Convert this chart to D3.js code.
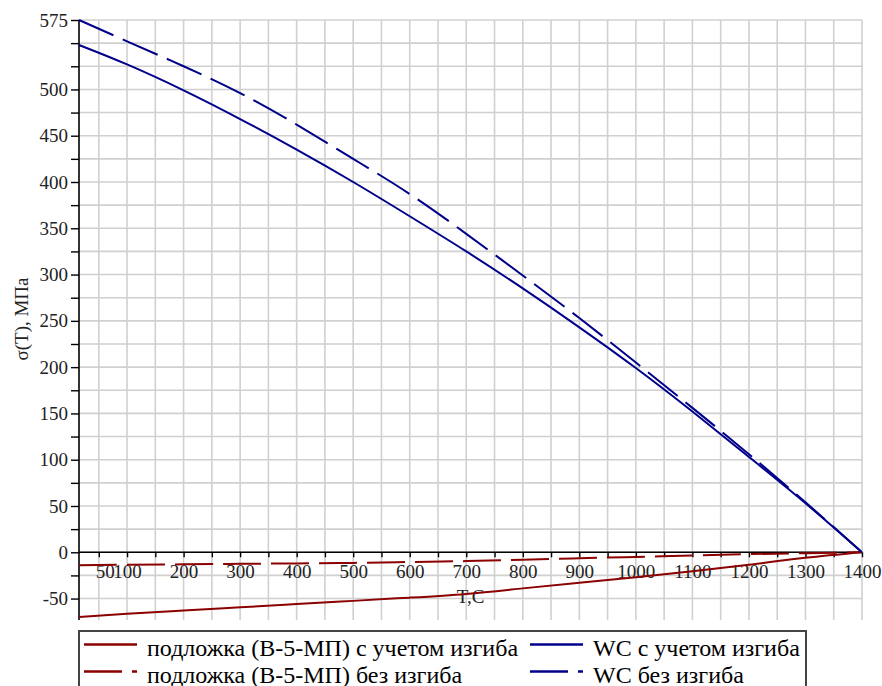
<!DOCTYPE html>
<html>
<head>
<meta charset="utf-8">
<script src="https://cdn.jsdelivr.net/npm/d3@7"></script>
<style>
  svg text { font-family: "Liberation Serif", Tinos, "Times New Roman", serif !important; }
</style>
</head>
<body style="margin:0">
<script>
// temperatures, °C
const temps = [15, 100, 200, 300, 400, 500, 600, 700, 800, 900, 1000, 1100, 1200, 1300, 1400];
// stresses, MPa
const substrateBend   = [-70, -66.5, -63, -59.5, -56, -52.5, -49, -45, -39, -33, -27, -20.5, -13.5, -6, 0];
const substrateNoBend = [-14, -13.5, -13, -12.5, -12, -11.5, -10.5, -9.5, -8, -6.5, -5, -3.5, -2, -1, 0];
const wcBend          = [548, 527, 499, 468, 435, 400, 363, 325, 285, 243, 199, 152, 103, 53, 0];
const wcNoBend        = [575, 552, 525, 496, 462, 425, 387, 344, 299, 253, 205, 156, 106, 54, 0];

const xTickValues = d3.range(50, 1401, 50);
const xTickLabels = [50, 100, 200, 300, 400, 500, 600, 700, 800, 900, 1000, 1100, 1200, 1300, 1400];
const yTickValues = d3.range(-50, 576, 25);
const yTickLabels = [575, 500, 450, 400, 350, 300, 250, 200, 150, 100, 50, 0, -50];

const seriesNames = [
    "подложка (В-5-МП) с учетом изгиба",
    "подложка (В-5-МП) без изгиба",
    "WC с учетом изгиба",
    "WC без изгиба"
];

const width = 882;
const height = 686;
const margin = { top: 20, right: 20, bottom: 68, left: 79 };
const serif = '"Liberation Serif", Tinos, "Times New Roman", serif';

const series = [
    { name: seriesNames[0], values: substrateBend, color: '#8b0000', dash: null },
    { name: seriesNames[1], values: substrateNoBend, color: '#8b0000', dash: '38,10' },
    { name: seriesNames[2], values: wcBend, color: '#00008b', dash: null },
    { name: seriesNames[3], values: wcNoBend, color: '#00008b', dash: '38,10' }
];

const svg = d3.select('body')
    .append('svg')
    .attr('width', width)
    .attr('height', height)
    .style('font-family', serif, 'important');

const x = d3.scaleLinear()
    .domain([15, 1400])
    .range([margin.left, width - margin.right]);
const y = d3.scaleLinear()
    .domain([-71, 575])
    .range([height - margin.bottom, margin.top]);

// grid
const grid = svg.append('g').classed('grid', true);

grid.selectAll('line.v')
    .data(xTickValues)
    .enter()
    .append('line')
    .attr('x1', d => x(d)).attr('x2', d => x(d))
    .attr('y1', y.range()[1]).attr('y2', y.range()[0] + 2)
    .attr('stroke', '#d0d0d0')
    .attr('stroke-width', 1.6);

grid.selectAll('line.h')
    .data(yTickValues)
    .enter()
    .append('line')
    .attr('x1', x.range()[0]).attr('x2', x.range()[1])
    .attr('y1', d => y(d)).attr('y2', d => y(d))
    .attr('stroke', '#d0d0d0')
    .attr('stroke-width', 1.6);

// axes
const xAxis = d3.axisBottom(x)
    .tickValues(xTickValues)
    .tickSize(5)
    .tickPadding(7)
    .tickFormat(d => xTickLabels.includes(d) ? d : '');

const xg = svg.append('g')
    .attr('transform', `translate(0,${y(0)})`)
    .call(xAxis);

xg.selectAll('text').filter(d => d === 50).attr('dx', 6);

const yAxis = d3.axisLeft(y)
    .tickValues(yTickValues)
    .tickSize(8)
    .tickPadding(3)
    .tickFormat(d => yTickLabels.includes(d) ? d : '');

const yg = svg.append('g')
    .attr('transform', `translate(${x(15)},0)`)
    .call(yAxis);

[xg, yg].forEach(g => {
    g.attr('font-family', null).attr('font-size', null);
    g.select('.domain').attr('stroke', '#000').attr('stroke-width', 1.6);
    g.selectAll('.tick line').attr('stroke', '#000').attr('stroke-width', 1.4);
    g.selectAll('.tick text')
        .attr('fill', '#222')
        .style('font-family', serif, 'important')
        .style('font-size', '19px');
});
yg.select('.domain').attr('d', `M0,${y.range()[1]}V${y.range()[0] + 2}`);
xg.select('.domain').attr('d', `M${x.range()[0]},0H${x.range()[1]}`);

// axis titles
svg.append('text')
    .attr('x', (x.range()[0] + x.range()[1]) / 2)
    .attr('y', 603)
    .attr('text-anchor', 'middle')
    .attr('fill', '#222')
    .style('font-family', serif, 'important')
    .style('font-size', '19px')
    .text('T,C');

svg.append('text')
    .attr('transform', `translate(28, ${(y.range()[0] + y.range()[1]) / 2}) rotate(-90)`)
    .attr('text-anchor', 'middle')
    .attr('fill', '#222')
    .style('font-family', serif, 'important')
    .style('font-size', '19px')
    .text('σ(T), МПа');

// curves
const line = d3.line()
    .x((d, i) => x(temps[i]))
    .y(d => y(d))
    .curve(d3.curveNatural);

svg.selectAll('.curve')
    .data(series)
    .enter()
    .append('path')
    .classed('curve', true)
    .attr('d', d => line(d.values))
    .attr('fill', 'none')
    .attr('stroke', d => d.color)
    .attr('stroke-width', 2)
    .attr('stroke-dasharray', d => d.dash);

// legend
const legend = svg.append('g');
legend.append('rect')
    .attr('x', 79).attr('y', 631)
    .attr('width', 727).attr('height', 70)
    .attr('fill', '#fff')
    .attr('stroke', '#444')
    .attr('stroke-width', 2);

const items = legend.selectAll('.item')
    .data(series)
    .enter()
    .append('g')
    .attr('transform', (d, i) => `translate(${i < 2 ? 84 : 530},${i % 2 === 0 ? 644.5 : 671.5})`);

items.append('line')
    .attr('x1', 0).attr('x2', 53)
    .attr('stroke', d => d.color)
    .attr('stroke-width', 2.4)
    .attr('stroke-dasharray', d => d.dash);

items.append('text')
    .attr('x', 63)
    .attr('y', 11)
    .attr('fill', '#000')
    .style('font-family', serif, 'important')
    .style('font-size', '24px')
    .text(d => d.name);
</script>
</body>
</html>
